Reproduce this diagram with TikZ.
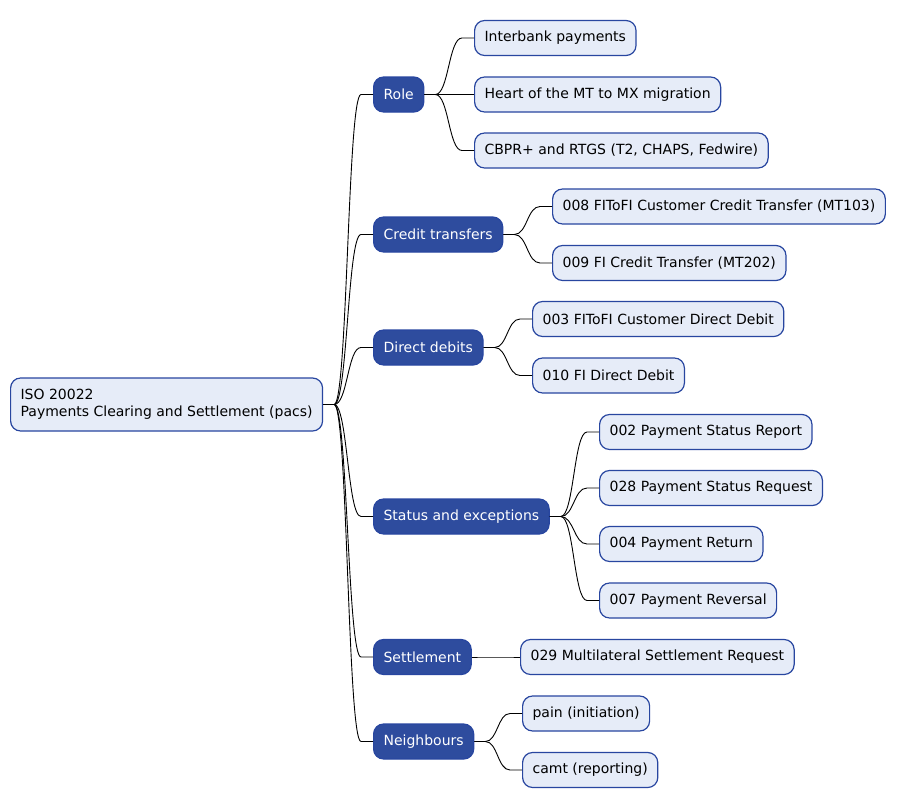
\documentclass[tikz,border=0pt]{standalone}
\usepackage{fontspec}
\setmainfont{DejaVu Sans}
\usetikzlibrary{calc}
\definecolor{catfill}{RGB}{46,76,158}
\definecolor{leaffill}{RGB}{230,236,248}
\definecolor{bord}{RGB}{40,70,160}
\newcommand\mmlink[2]{%
  \path (#1.east) ++(11,0) coordinate (mmA);
  \path (#2.west) ++(-12,0) coordinate (mmB);
  \coordinate (mmM) at ($(mmA)!0.5!(mmB)$);
  \draw[link] (#1.east) -- (mmA) .. controls (mmM |- mmA) and (mmM |- mmB) .. (mmB) -- (#2.west);
}
\begin{document}
\begin{tikzpicture}[x=1pt,y=-1pt, font=\fontsize{14}{16.5}\selectfont,
  base/.style={rounded corners=10pt, minimum height=35pt, inner xsep=10pt, inner ysep=0pt, line width=1.2pt, anchor=west},
  leaf/.style={base, draw=bord, fill=leaffill, text=black},
  cat/.style={base, draw=bord, fill=catfill, text=white},
  rootnode/.style={base, draw=bord, fill=leaffill, minimum height=53pt, align=left},
  link/.style={line width=0.9pt, black}]
\useasboundingbox (0,0) rectangle (900,809);
\fill[white] (0,0) rectangle (900,809);

\node[rootnode] (root) at (10,404.5) {ISO 20022\\Payments Clearing and Settlement (pacs)};

\node[cat] (role) at (373,94.5) {Role};
\node[cat] (credit) at (373,234.5) {Credit transfers};
\node[cat] (debit) at (373,347.5) {Direct debits};
\node[cat] (status) at (373,516.5) {Status and exceptions};
\node[cat] (settle) at (373,657) {Settlement};
\node[cat] (neigh) at (373,741.5) {Neighbours};

\node[leaf] (l1) at (474,38) {Interbank payments};
\node[leaf] (l2) at (474,94.5) {Heart of the MT to MX migration};
\node[leaf] (l3) at (474,150.5) {CBPR+ and RTGS (T2, CHAPS, Fedwire)};
\node[leaf] (c1) at (552,206.5) {008 FIToFI Customer Credit Transfer (MT103)};
\node[leaf] (c2) at (552,263) {009 FI Credit Transfer (MT202)};
\node[leaf] (d1) at (532,319) {003 FIToFI Customer Direct Debit};
\node[leaf] (d2) at (532,375.5) {010 FI Direct Debit};
\node[leaf] (s1) at (599,432) {002 Payment Status Report};
\node[leaf] (s2) at (599,488) {028 Payment Status Request};
\node[leaf] (s3) at (599,544) {004 Payment Return};
\node[leaf] (s4) at (599,600.5) {007 Payment Reversal};
\node[leaf] (t1) at (520,657) {029 Multilateral Settlement Request};
\node[leaf] (n1) at (522,713.5) {pain (initiation)};
\node[leaf] (n2) at (522,770) {camt (reporting)};

\mmlink{root}{role}
\mmlink{root}{credit}
\mmlink{root}{debit}
\mmlink{root}{status}
\mmlink{root}{settle}
\mmlink{root}{neigh}
\mmlink{role}{l1}
\mmlink{role}{l2}
\mmlink{role}{l3}
\mmlink{credit}{c1}
\mmlink{credit}{c2}
\mmlink{debit}{d1}
\mmlink{debit}{d2}
\mmlink{status}{s1}
\mmlink{status}{s2}
\mmlink{status}{s3}
\mmlink{status}{s4}
\mmlink{settle}{t1}
\mmlink{neigh}{n1}
\mmlink{neigh}{n2}
\end{tikzpicture}
\end{document}
